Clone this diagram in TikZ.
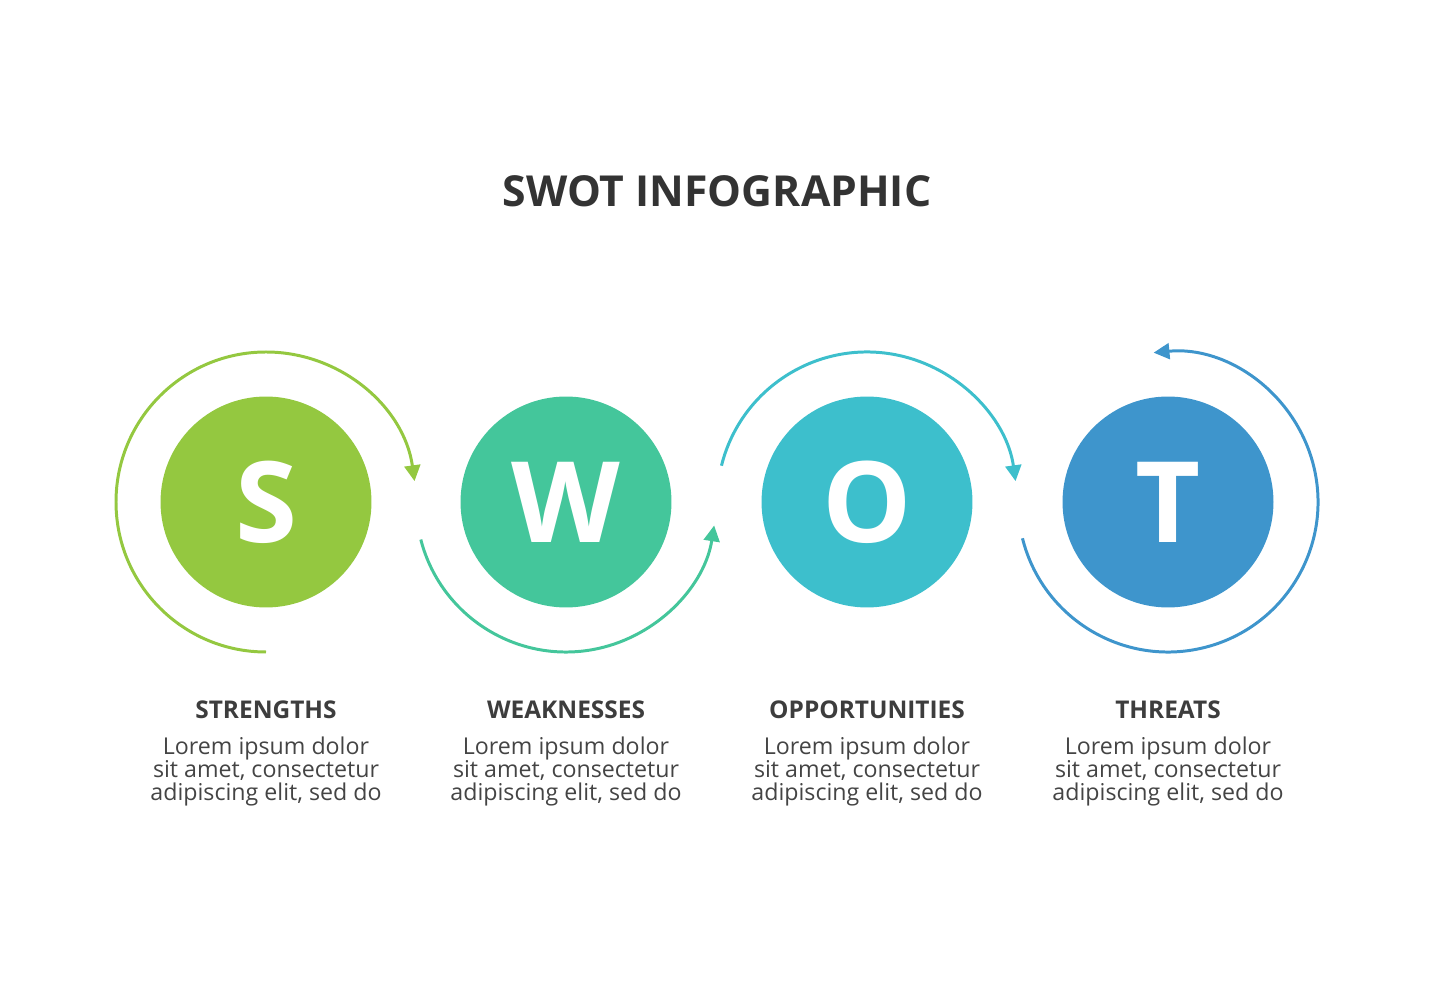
\documentclass[tikz,border=0pt]{standalone}
\usepackage{fontspec}
\setmainfont{Open Sans}
\usetikzlibrary{arrows.meta}

\definecolor{swotS}{HTML}{94C840}
\definecolor{swotW}{HTML}{44C69B}
\definecolor{swotO}{HTML}{3DBFCC}
\definecolor{swotT}{HTML}{3E95CC}
\definecolor{titlegray}{HTML}{333333}
\definecolor{headgray}{HTML}{3D3D3D}
\definecolor{bodygray}{HTML}{444444}

\tikzset{
  letter/.style={circle, minimum size=4.22cm, inner sep=0pt, text=white,
    font=\bfseries\fontsize{64}{70}\selectfont},
  loop/.style={line width=1.7pt, -{Triangle[length=9pt, width=9pt]}},
  heading/.style={anchor=base, text=headgray, font=\bfseries\fontsize{13.9}{16}\selectfont},
  blurb/.style={anchor=base, align=center, text=bodygray, font=\fontsize{13.2}{13}\selectfont}
}

\begin{document}
\begin{tikzpicture}[x=0.02cm, y=0.02cm]
\def\ymid{478};
\def\rarc{150};
\def\yhead{261};
\def\ytext{180};

\useasboundingbox (0,0) rectangle (1435,980);

\node [text=titlegray, font=\bfseries\fontsize{24.3}{28}\selectfont] (title) at (717,789) {SWOT INFOGRAPHIC};

% the four letters
\node [letter, fill=swotS] (S) at (266,\ymid) {S};
\node [letter, fill=swotW] (W) at (566,\ymid) {W};
\node [letter, fill=swotO] (O) at (867,\ymid) {O};
\node [letter, fill=swotT] (T) at (1168,\ymid) {T};

% arrows round the circles
\draw [loop, swotS] (S.center) ++(270:\rarc) arc [start angle=270, end angle=8, radius=\rarc];
\draw [loop, swotW] (W.center) ++(194.5:\rarc) arc [start angle=194.5, end angle=351, radius=\rarc];
\draw [loop, swotO] (O.center) ++(166:\rarc) arc [start angle=166, end angle=8, radius=\rarc];
\draw [loop, swotT] (T.center) ++(194:\rarc) arc [start angle=194, end angle=455.5, radius=\rarc];

% labels
\node [heading] (Sh) at (266,\yhead) {STRENGTHS};
\node [heading] (Wh) at (566,\yhead) {WEAKNESSES};
\node [heading] (Oh) at (867,\yhead) {OPPORTUNITIES};
\node [heading] (Th) at (1168,\yhead) {THREATS};

\node [blurb] (St) at (266,\ytext) {Lorem ipsum dolor\\sit amet, consectetur\\adipiscing elit, sed do};
\node [blurb] (Wt) at (566,\ytext) {Lorem ipsum dolor\\sit amet, consectetur\\adipiscing elit, sed do};
\node [blurb] (Ot) at (867,\ytext) {Lorem ipsum dolor\\sit amet, consectetur\\adipiscing elit, sed do};
\node [blurb] (Tt) at (1168,\ytext) {Lorem ipsum dolor\\sit amet, consectetur\\adipiscing elit, sed do};

\end{tikzpicture}
\end{document}
